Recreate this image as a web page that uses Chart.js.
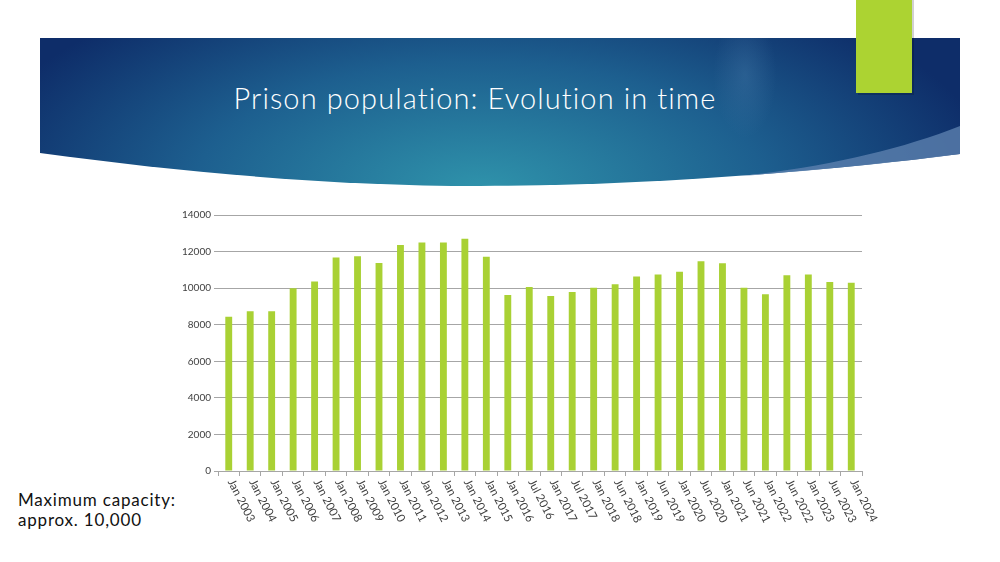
<!DOCTYPE html>
<html>
<head>
<meta charset="utf-8">
<script src="https://cdn.jsdelivr.net/npm/chart.js@4.4.1/dist/chart.umd.min.js"></script>
<style>
  body { margin: 0; width: 1000px; height: 562px; background: #fff; position: relative; overflow: hidden; font-family: 'Lato', sans-serif; }
  #banner { position: absolute; left: 0; top: 0; }
  #titulo { position: absolute; left: 0; width: 950px; top: 80px; text-align: center; color: #fff; font-size: 29px; font-weight: 300; letter-spacing: 1.1px; white-space: nowrap; }
  #nota { position: absolute; left: 18px; top: 490px; color: #111; font-size: 17px; letter-spacing: 0.8px; line-height: 20px; }
  #caja { position: absolute; left: 170px; top: 205px; width: 740px; height: 340px; }
</style>
</head>
<body>
<svg id="banner" width="1000" height="562">
  <defs>
    <radialGradient id="fondo" cx="480" cy="190" r="520" gradientUnits="userSpaceOnUse" gradientTransform="translate(480 190) scale(1 0.45) translate(-480 -190)">
      <stop offset="0" stop-color="#2f93ab"/>
      <stop offset="0.55" stop-color="#1d5f8f"/>
      <stop offset="1" stop-color="#0e2d69"/>
    </radialGradient>
    <radialGradient id="brillo" cx="745" cy="75" r="45" gradientUnits="userSpaceOnUse" gradientTransform="translate(745 75) scale(0.7 1.4) translate(-745 -75)">
      <stop offset="0" stop-color="#4a7fae" stop-opacity="0.35"/>
      <stop offset="1" stop-color="#4a7fae" stop-opacity="0"/>
    </radialGradient>
  </defs>
  <path d="M40,38 H960 V154 C820,172 640,186 480,186 C330,186 180,172 40,153 Z" fill="url(#fondo)"/>
  <path d="M40,38 H960 V154 C820,172 640,186 480,186 C330,186 180,172 40,153 Z" fill="url(#brillo)"/>
  <path d="M960,126 C900,150 820,168 740,176 C820,170 900,162 960,154 Z" fill="#5b7fae" opacity="0.8"/>
  <rect x="858" y="0" width="56" height="95" fill="#000" opacity="0.18"/>
  <rect x="856" y="0" width="56" height="93" fill="#acd332"/>
</svg>
<div id="titulo">Prison population: Evolution in time</div>
<div id="nota">Maximum capacity:<br>approx. 10,000</div>
<div id="caja"><canvas id="grafica"></canvas></div>
<script>
const meses = ['Jan 2003', 'Jan 2004', 'Jan 2005', 'Jan 2006', 'Jan 2007', 'Jan 2008', 'Jan 2009', 'Jan 2010',
  'Jan 2011', 'Jan 2012', 'Jan 2013', 'Jan 2014', 'Jan 2015', 'Jan 2016', 'Jul 2016', 'Jan 2017', 'Jul 2017',
  'Jan 2018', 'Jun 2018', 'Jan 2019', 'Jun 2019', 'Jan 2020', 'Jun 2020', 'Jan 2021', 'Jun 2021', 'Jan 2022',
  'Jun 2022', 'Jan 2023', 'Jun 2023', 'Jan 2024'];
const poblacion = [8440, 8730, 8730, 9990, 10370, 11670, 11740, 11370, 12360, 12500, 12500, 12700, 11720, 9620,
  10060, 9570, 9790, 10020, 10210, 10630, 10740, 10900, 11470, 11360, 10020, 9660, 10700, 10740, 10340, 10300];
const marcasY = [0, 2000, 4000, 6000, 8000, 10000, 12000, 14000];

// etiquetas del eje x giradas hacia abajo a la derecha
const etiquetasX = {
  id: 'etiquetasX',
  afterDraw(chart) {
    const { ctx } = chart;
    const x = chart.scales.x;
    ctx.save();
    ctx.font = '11.5px Lato';
    ctx.fillStyle = '#404040';
    ctx.textAlign = 'left';
    ctx.textBaseline = 'middle';
    meses.forEach((m, i) => {
      const px = x.getPixelForTick(i);
      ctx.save();
      ctx.translate(px + 2, x.bottom + 4);
      ctx.rotate(63 * Math.PI / 180);
      ctx.fillText(m, 0, 0);
      ctx.restore();
    });
    ctx.restore();
  }
};

new Chart(document.getElementById('grafica'), {
  type: 'bar',
  data: {
    labels: meses,
    datasets: [{
      data: poblacion,
      backgroundColor: '#a9d134',
      barPercentage: 0.32,
      categoryPercentage: 1
    }]
  },
  options: {
    responsive: true,
    maintainAspectRatio: false,
    animation: false,
    layout: { padding: { top: 10, bottom: 69, right: 48, left: 0 } },
    plugins: { legend: { display: false }, tooltip: { enabled: false } },
    scales: {
      x: {
        ticks: { display: false },
        grid: { drawOnChartArea: false, tickLength: 5, color: '#a6a6a6' },
        border: { color: '#a6a6a6' },
        afterFit(s) { s.height = 5; }
      },
      y: {
        min: 0,
        max: 14000,
        afterBuildTicks(s) { s.ticks = marcasY.map(v => ({ value: v })); },
        ticks: { color: '#404040', font: { family: 'Lato', size: 10 }, padding: 3, callback: v => String(v) },
        grid: { color: '#a6a6a6', tickLength: 4 },
        border: { display: false },
        afterFit(s) { s.width = 48; }
      }
    }
  },
  plugins: [etiquetasX]
});
</script>
</body>
</html>
